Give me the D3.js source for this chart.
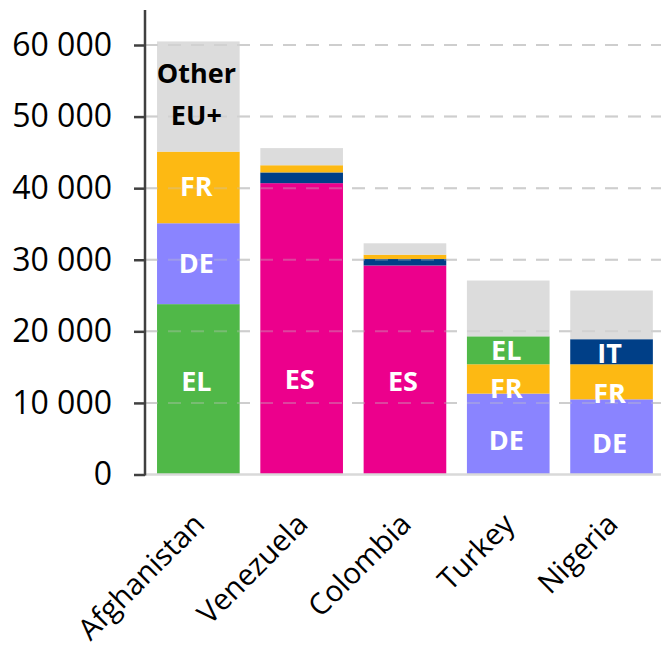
<!DOCTYPE html>
<html>
<head>
<meta charset="utf-8">
<script src="https://cdn.jsdelivr.net/npm/d3@7"></script>
<style>
  html, body { margin: 0; padding: 0; background: #ffffff; }
  svg { display: block; font-family: "Open Sans", sans-serif; }
</style>
</head>
<body>
<svg id="chart" width="661" height="648"></svg>
<script>
// ---- data ----
const countries = ["Afghanistan", "Venezuela", "Colombia", "Turkey", "Nigeria"];
const seriesNames = ["EL", "ES", "DE", "FR", "IT", "Other"];
const EL    = [23800,     0,     0,  3900,     0];
const ES    = [    0, 40700, 29200,     0,     0];
const DE    = [11300,     0,     0, 11300, 10500];
const FR    = [10000,  1000,   600,  4100,  4900];
const IT    = [    0,  1500,   900,     0,  3500];
const Other = [15400,  2400,  1600,  7800,  6800];
const yTicks = [0, 10000, 20000, 30000, 40000, 50000, 60000];

// in-bar labels: country, text lines, value where label is centred
const labelCountry = ["Afghanistan", "Afghanistan", "Afghanistan", "Afghanistan", "Venezuela", "Colombia", "Turkey", "Turkey", "Turkey", "Nigeria", "Nigeria", "Nigeria"];
const labelText    = [["Other", "EU+"], ["FR"], ["DE"], ["EL"], ["ES"], ["ES"], ["EL"], ["FR"], ["DE"], ["IT"], ["FR"], ["DE"]];
const labelValue   = [53150, 40300, 29500, 13000, 13300, 13000, 17400, 12000, 4800, 16900, 11300, 4400];

// ---- styling ----
const colors = { EL: "#50b848", ES: "#ec008c", DE: "#8a84ff", FR: "#fdb913", IT: "#003f87", Other: "#d9d9d9" };
const seriesValues = { EL, ES, DE, FR, IT, Other };

const svg = d3.select("#chart");
const x = d3.scaleBand().domain(countries).range([146.7, 663.2]).paddingInner(0.2).paddingOuter(0.1);
const y = d3.scaleLinear().domain([0, 60000]).range([474.5, 45]);
const axisX = 145;

// gridlines
svg.append("g").selectAll("line").data(yTicks.filter(d => d > 0)).join("line")
  .attr("x1", axisX).attr("x2", 661)
  .attr("y1", d => y(d)).attr("y2", d => y(d))
  .attr("stroke", "#d4d4d4").attr("stroke-width", 2).attr("stroke-dasharray", "13,10");

// stacks built per country: series sorted by value desc, Other on top
const stacks = countries.map((c, i) => {
  const parts = seriesNames.filter(s => s !== "Other")
    .map(s => ({ key: s, value: seriesValues[s][i] }))
    .filter(p => p.value > 0)
    .sort((a, b) => b.value - a.value);
  parts.push({ key: "Other", value: Other[i] });
  let acc = 0;
  return parts.map(p => { const seg = { country: c, key: p.key, y0: acc, y1: acc + p.value }; acc += p.value; return seg; });
}).flat();

svg.append("g").selectAll("rect").data(stacks).join("rect")
  .attr("x", d => x(d.country))
  .attr("width", x.bandwidth())
  .attr("y", d => y(d.y1))
  .attr("height", d => y(d.y0) - y(d.y1))
  .attr("fill", d => colors[d.key])
  .attr("fill-opacity", d => d.key === "Other" ? 0.92 : 1);

// gridlines faintly on top of the grey segments
svg.append("g").selectAll("line").data(yTicks.filter(d => d > 0)).join("line")
  .attr("x1", axisX).attr("x2", 661)
  .attr("y1", d => y(d)).attr("y2", d => y(d))
  .attr("stroke", "#c4c4c4").attr("stroke-opacity", 0.35).attr("stroke-width", 2).attr("stroke-dasharray", "13,10");

// baseline
svg.append("line").attr("x1", axisX).attr("x2", 661).attr("y1", y(0)).attr("y2", y(0))
  .attr("stroke", "#d9d9d9").attr("stroke-width", 2.5);

// y axis
const yAxis = d3.axisLeft(y).tickValues(yTicks).tickSize(11).tickPadding(22)
  .tickFormat(d => d3.format(",")(d).replace(/,/g, " "));
const gy = svg.append("g").attr("transform", `translate(${axisX},0)`).call(yAxis);
gy.select(".domain").remove();
gy.selectAll(".tick line").attr("stroke", "#404040").attr("stroke-width", 2.5);
gy.selectAll(".tick text").attr("fill", "#000").style("font-size", "32px").style("font-family", "'Open Sans', sans-serif");
svg.append("line").attr("x1", axisX).attr("x2", axisX).attr("y1", 10).attr("y2", y(0) + 1)
  .attr("stroke", "#404040").attr("stroke-width", 2.5);

// in-bar labels
const lab = svg.append("g");
labelCountry.forEach((c, i) => {
  const lines = labelText[i];
  const isOther = lines[0] === "Other";
  const t = lab.append("text")
    .attr("x", x(c) + x.bandwidth() / 2 - 3)
    .attr("y", y(labelValue[i]))
    .attr("text-anchor", "middle")
    .attr("fill", isOther ? "#000" : "#fff")
    .style("font-weight", "bold")
    .style("font-size", "27px");
  lines.forEach((ln, j) => {
    t.append("tspan").attr("x", x(c) + x.bandwidth() / 2 - 2)
      .attr("dy", j === 0 ? ((-(lines.length - 1) / 2) * 1.55 + 0.36) + "em" : "1.55em")
      .text(ln);
  });
});

// category labels
svg.append("g").selectAll("text").data(countries).join("text")
  .attr("transform", d => `translate(${x(d) + x.bandwidth() / 2 + 8},${526}) rotate(-45)`)
  .attr("text-anchor", "end")
  .attr("fill", "#000")
  .style("font-size", "29.5px")
  .text(d => d);
</script>
</body>
</html>
